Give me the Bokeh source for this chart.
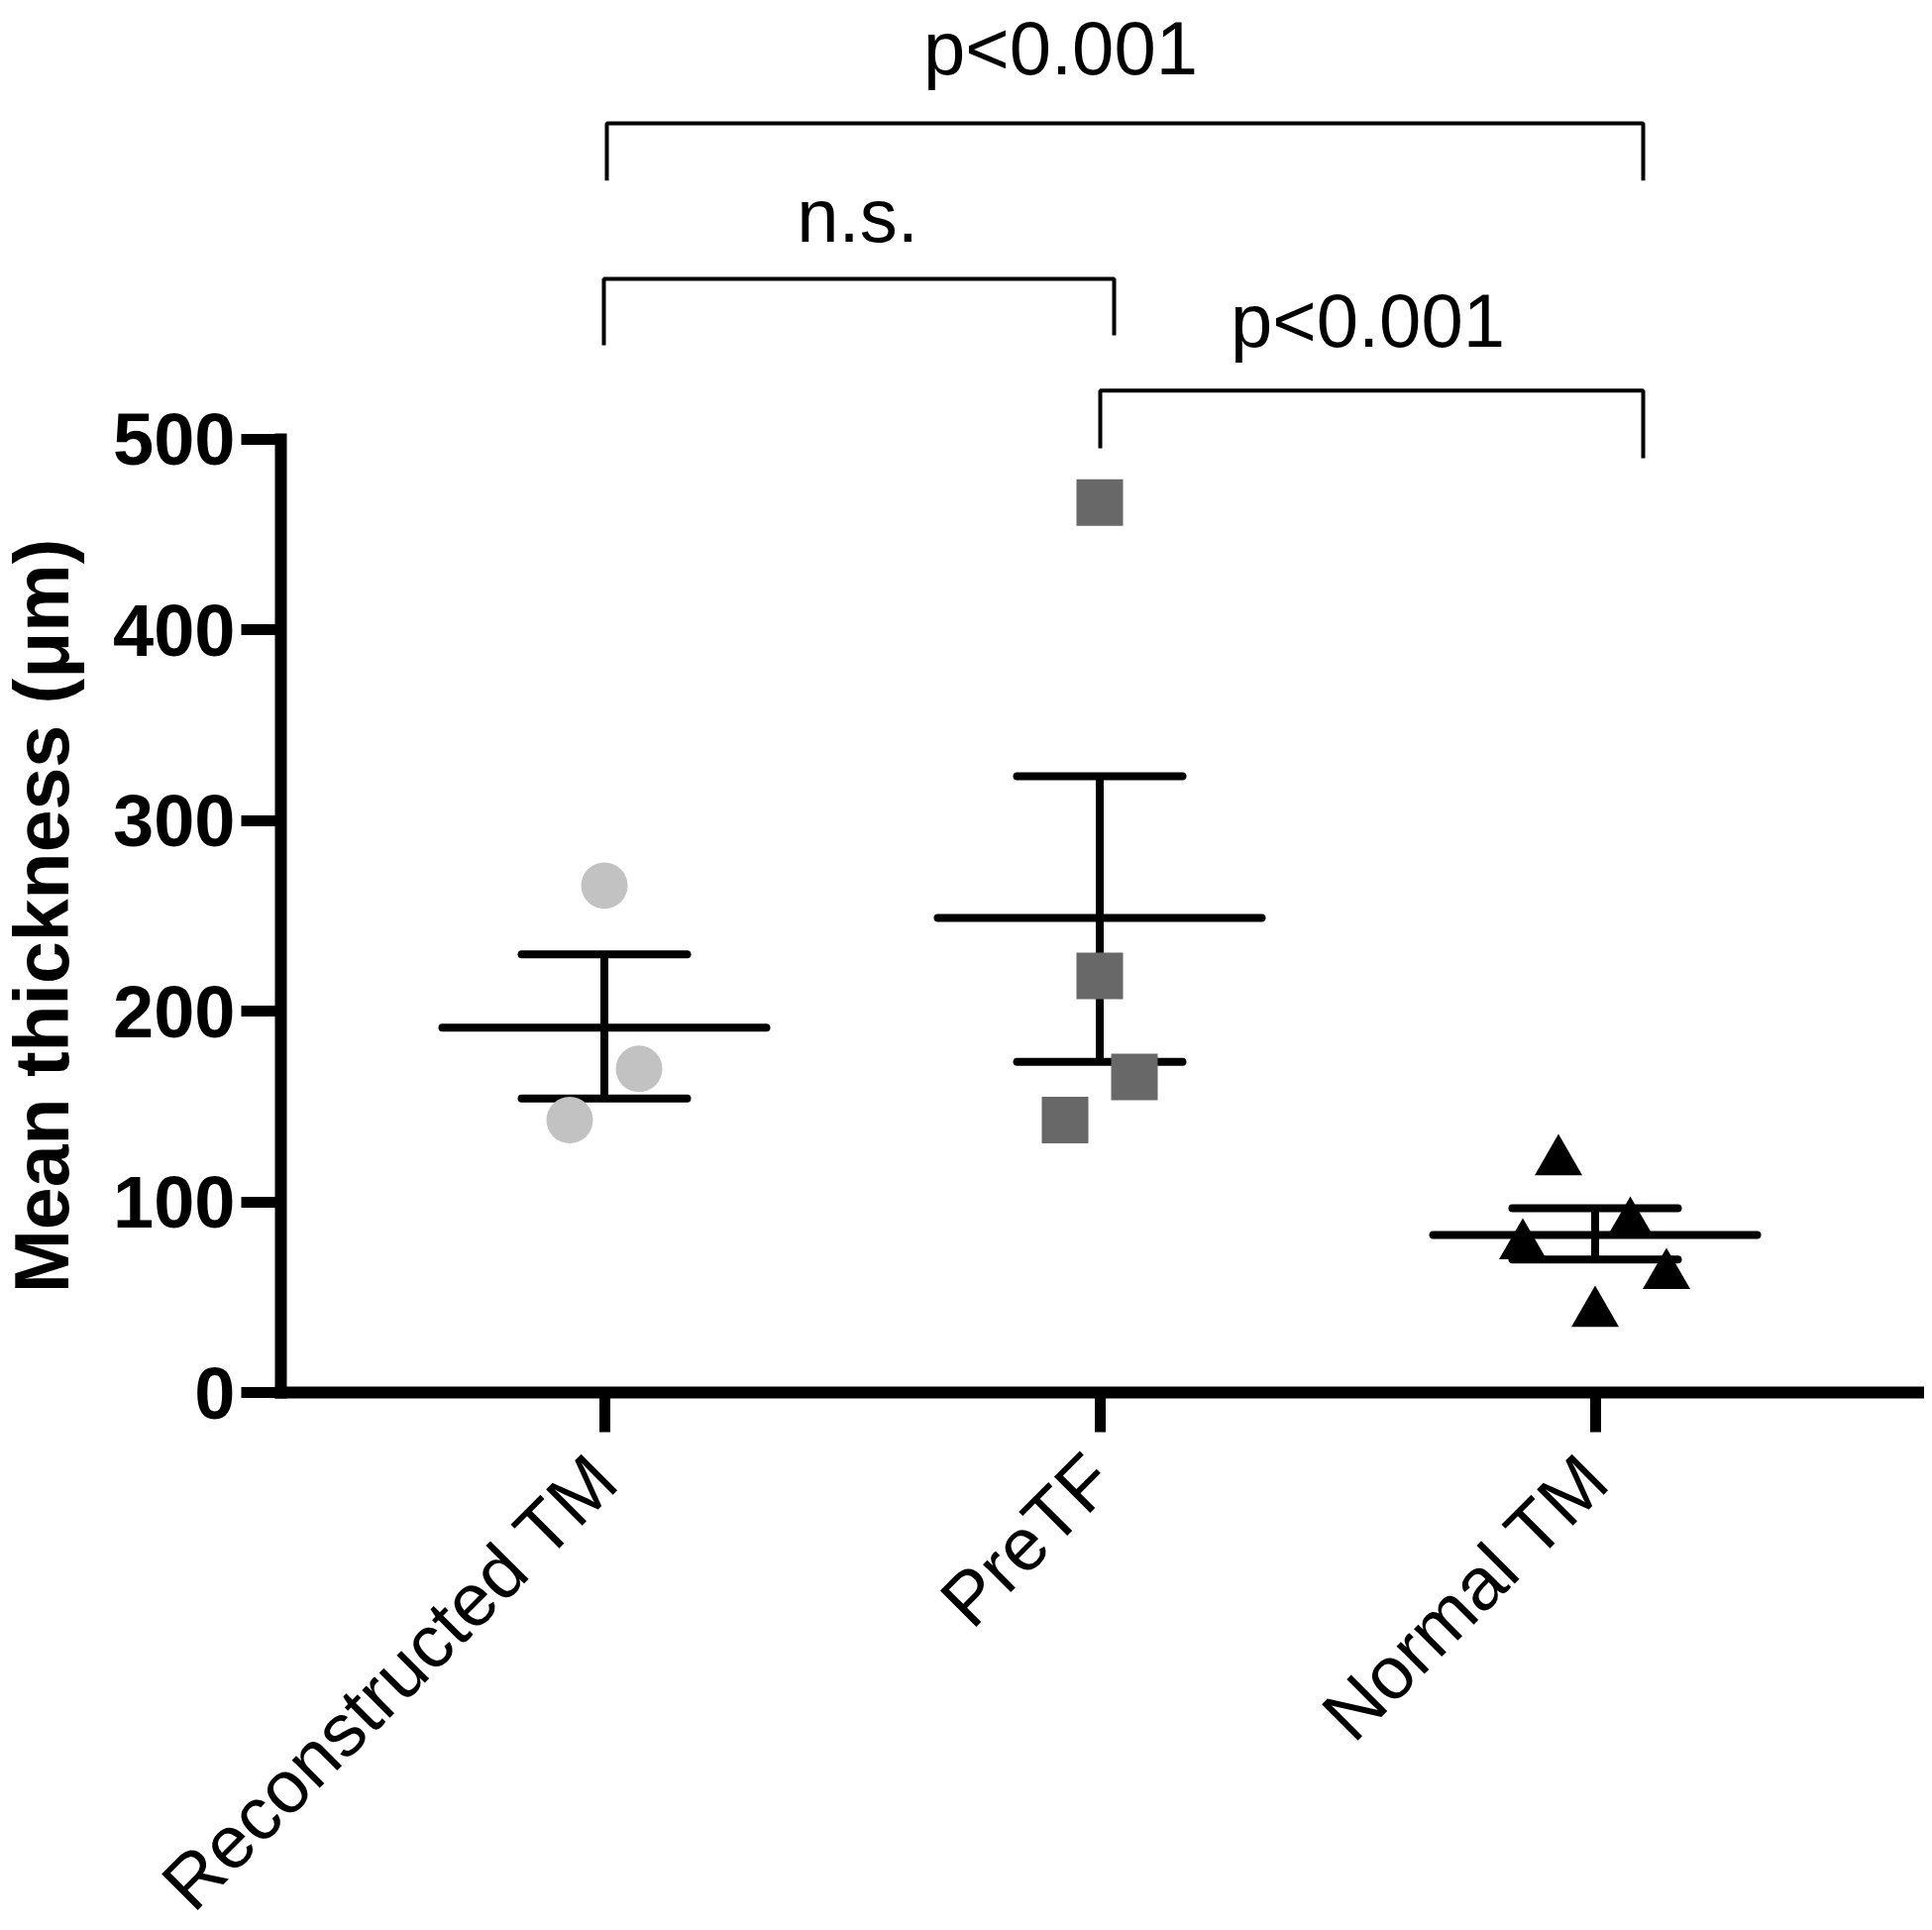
import math
from bokeh.plotting import figure
from bokeh.models import Range1d, FixedTicker, ColumnDataSource, Label
from bokeh.core.properties import value
from bokeh.transform import dodge
from bokeh.embed import file_html
from bokeh.resources import INLINE

# ---------------- data ----------------
categories = ["Reconstructed TM", "PreTF", "Normal TM"]
recon_values = [265.9, 169.8, 142.9]
pretf_values = [466.8, 218.5, 165.5, 142.9]
normal_values = [124.7, 92.0, 80.6, 65.0, 45.2]
recon_jitter = [0.0, 0.07, -0.07]
pretf_jitter = [0.0, 0.0, 0.07, -0.07]
normal_jitter = [-0.074, 0.071, -0.146, 0.144, 0.0]
group_means = [191.4, 248.9, 82.6]
sem_upper = [229.9, 323.3, 96.7]
sem_lower = [154.2, 173.4, 69.8]
y_ticks = [0, 100, 200, 300, 400, 500]
y_label = "Mean thickness (\u03bcm)"

# significance brackets (layout)
sig_labels = ["p<0.001", "n.s.", "p<0.001"]
br_left = [1.005, 0.999, 2.001]
br_right = [3.097, 2.029, 3.097]
br_top = [665.8, 584.2, 525.5]
br_left_end = [635.7, 549.4, 495.3]
br_right_end = [635.7, 554.6, 490.1]
lab_x = [1.921, 1.511, 2.541]
lab_y = [705.0, 617.5, 562.5]

FONT = "Liberation Sans"
X_AXIS_START = 0.347

p = figure(width=1942, height=1948,
           x_range=Range1d(-0.219, 3.665), y_range=Range1d(-282.2, 730.2),
           output_backend="svg", toolbar_location=None,
           min_border_left=0, min_border_right=0,
           min_border_top=0, min_border_bottom=0)
p.outline_line_color = None
p.grid.visible = False
p.background_fill_color = "white"
p.border_fill_color = "white"

cat_x = [i + 1 for i in range(len(categories))]

# ---- error bars (mean +/- SEM) ----
half_mean = 0.327
half_cap = 0.167
lw = 8
mean_src = ColumnDataSource(dict(
    x0=[c - half_mean for c in cat_x], x1=[c + half_mean for c in cat_x],
    y=group_means))
p.segment(x0="x0", y0="y", x1="x1", y1="y", source=mean_src,
          line_color="black", line_width=lw, line_cap="round")
p.segment(x0=cat_x, y0=sem_lower, x1=cat_x, y1=sem_upper,
          line_color="black", line_width=lw)
p.segment(x0=[c - half_cap for c in cat_x], y0=sem_upper,
          x1=[c + half_cap for c in cat_x], y1=sem_upper,
          line_color="black", line_width=lw, line_cap="round")
p.segment(x0=[c - half_cap for c in cat_x], y0=sem_lower,
          x1=[c + half_cap for c in cat_x], y1=sem_lower,
          line_color="black", line_width=lw, line_cap="round")

# ---- points ----
src_r = ColumnDataSource(dict(x=[cat_x[0] + j for j in recon_jitter], y=recon_values))
src_p = ColumnDataSource(dict(x=[cat_x[1] + j for j in pretf_jitter], y=pretf_values))
src_n = ColumnDataSource(dict(x=[cat_x[2] + j for j in normal_jitter], y=normal_values))
p.scatter(x="x", y="y", source=src_r, marker="circle", size=47,
          fill_color="#c2c2c2", line_color=None)
p.scatter(x="x", y="y", source=src_p, marker="square", size=47,
          fill_color="#686868", line_color=None)
p.scatter(x="x", y=dodge("y", -3.5, range=p.y_range), source=src_n,
          marker="triangle", size=48, fill_color="black", line_color=None)

# ---- brackets ----
xs, ys = [], []
for i in range(len(sig_labels)):
    xs.append([br_left[i], br_left[i], br_right[i], br_right[i]])
    ys.append([br_left_end[i], br_top[i], br_top[i], br_right_end[i]])
p.multi_line(xs=xs, ys=ys, line_color="black", line_width=4)
p.text(x=lab_x, y=lab_y, text=sig_labels, text_font=value(FONT),
       text_font_size="76px", text_align="center", text_baseline="alphabetic",
       text_color="black")

# ---- axes ----
xa = p.xaxis[0]
xa.fixed_location = 0
xa.bounds = (X_AXIS_START, 3.665)
xa.ticker = FixedTicker(ticks=cat_x)
xa.major_label_overrides = {c: n for c, n in zip(cat_x, categories)}
xa.major_label_orientation = math.pi / 4
xa.major_label_text_font = FONT
xa.major_label_text_font_size = "75px"
xa.major_label_text_color = "black"
xa.major_label_standoff = 35
xa.minor_tick_line_color = None
xa.major_tick_in = 0
xa.major_tick_out = 40
xa.major_tick_line_width = 11
xa.axis_line_width = 12
xa.axis_line_cap = "square"

ya = p.yaxis[0]
ya.fixed_location = X_AXIS_START
ya.ticker = FixedTicker(ticks=y_ticks)
ya.bounds = (0, 500)
ya.major_label_text_font = FONT
ya.major_label_text_font_style = "bold"
ya.major_label_text_font_size = "74px"
ya.major_label_text_color = "black"
ya.major_label_standoff = 6
ya.minor_tick_line_color = None
ya.major_tick_in = 0
ya.major_tick_out = 40
ya.major_tick_line_width = 11
ya.axis_line_width = 12
ya.axis_line_cap = "square"

p.add_layout(Label(x=-0.137, y=250, text=y_label, angle=math.pi / 2,
                   text_font=FONT, text_font_style="bold",
                   text_font_size="77px", text_color="black",
                   text_align="center", text_baseline="alphabetic"))

open("out.html", "w").write(file_html(p, INLINE))
